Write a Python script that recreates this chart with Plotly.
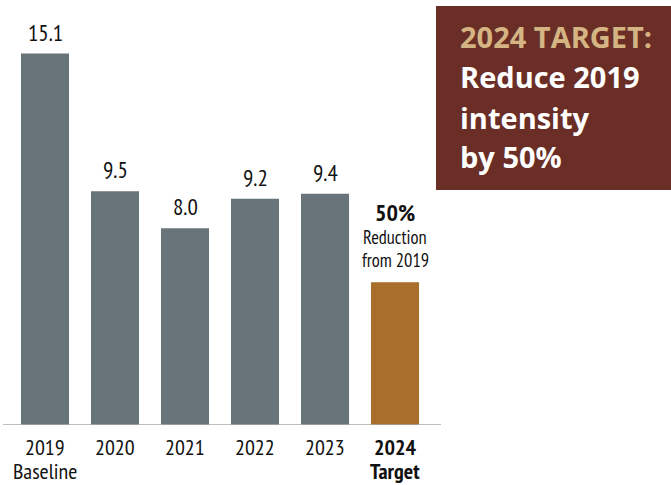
import plotly.graph_objects as go

# Emissions intensity by year, with the 2024 target bar
categories = ["2019", "2020", "2021", "2022", "2023", "2024"]
tick_line1 = ["2019", "2020", "2021", "2022", "2023", "<b>2024</b>"]
tick_line2 = ["Baseline", "", "", "", "", "<b>Target</b>"]
values = [15.1, 9.5, 8.0, 9.2, 9.4, 5.8]
value_labels = ["15.1", "9.5", "8.0", "9.2", "9.4", ""]
bar_colors = ["#68737a", "#68737a", "#68737a", "#68737a", "#68737a", "#a96e2a"]

target_note = ["<b>50%</b>", "Reduction", "from 2019"]
box_title = "2024 TARGET:"
box_lines = ["Reduce 2019", "intensity", "by 50%"]

W, H = 671, 485
NARROW = "PT Sans Narrow, Roboto Condensed, Open Sans Condensed, sans-serif"
BOX_FONT = "Source Sans 3, Open Sans, sans-serif"
INK = "#111111"


def py(pixel_y):
    """Paper y coordinate for a pixel row measured from the top."""
    return 1 - pixel_y / H


x_idx = list(range(len(categories)))

fig = go.Figure()
fig.add_trace(go.Bar(
    x=x_idx, y=values,
    marker=dict(color=bar_colors, line=dict(width=0)),
    width=0.686,
    hoverinfo="skip",
))

annotations = []
for i, (v, lab) in enumerate(zip(values, value_labels)):
    if lab:
        annotations.append(dict(
            x=i, y=v, xref="x", yref="y", text=lab, showarrow=False,
            yanchor="middle", yshift=21.5,
            font=dict(family=NARROW, size=23, color=INK),
        ))

# stacked note above the target bar
note_rows = [212, 236.5, 260]
note_sizes = [24, 18.5, 18.5]
for txt, row, sz in zip(target_note, note_rows, note_sizes):
    annotations.append(dict(
        x=5, y=py(row), xref="x", yref="paper", text=txt, showarrow=False,
        yanchor="middle",
        font=dict(family=NARROW, size=sz, color=INK),
    ))

# category labels beneath the axis
for i, (t1, t2) in enumerate(zip(tick_line1, tick_line2)):
    for txt, row in ((t1, 447), (t2, 471)):
        if txt:
            annotations.append(dict(
                x=i, y=py(row), xref="x", yref="paper", text=txt,
                showarrow=False, yanchor="middle",
                font=dict(family=NARROW, size=22, color=INK),
            ))

# target call-out box text
box_x = 458 / W
box_rows = [38, 78, 119, 158]
box_texts = [box_title] + box_lines
box_colors = ["#d4b483", "#ffffff", "#ffffff", "#ffffff"]
for txt, row, col in zip(box_texts, box_rows, box_colors):
    annotations.append(dict(
        x=box_x, y=py(row), xref="paper", yref="paper",
        text="<b>" + txt + "</b>", showarrow=False,
        xanchor="left", yanchor="middle", align="left",
        font=dict(family=BOX_FONT, size=29, color=col),
    ))

shapes = [
    dict(type="rect", xref="paper", yref="paper",
         x0=436 / W, x1=1.0, y0=py(190), y1=py(6),
         fillcolor="#6a2e26", line=dict(width=0), layer="below"),
    dict(type="line", xref="paper", yref="y",
         x0=3 / W, x1=441 / W, y0=0, y1=0,
         line=dict(color="#aaaaaa", width=1.5)),
]

px_per_unit = 24.6
baseline_px = 425

fig.update_layout(
    width=W, height=H,
    margin=dict(l=0, r=0, t=0, b=0),
    paper_bgcolor="white", plot_bgcolor="white",
    showlegend=False,
    bargap=0.314,
    xaxis=dict(domain=[3 / W, 441 / W], range=[-0.6, 5.657],
               showticklabels=False, showgrid=False, zeroline=False,
               showline=False, ticks="", fixedrange=True),
    yaxis=dict(domain=[(H - baseline_px) / H, 1],
               range=[0, baseline_px / px_per_unit],
               showticklabels=False, showgrid=False, zeroline=False,
               showline=False, ticks="", fixedrange=True),
    annotations=annotations,
    shapes=shapes,
)

fig.write_html("out.html")
